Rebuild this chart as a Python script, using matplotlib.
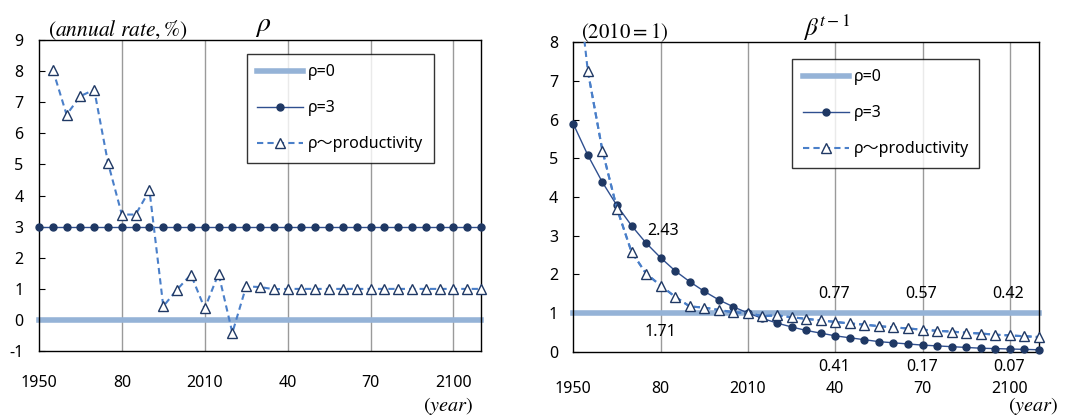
import numpy as np
import matplotlib
matplotlib.use("Agg")
import matplotlib.pyplot as plt

plt.rcParams['font.family'] = ['Noto Sans', 'Noto Sans CJK JP', 'DejaVu Sans']
plt.rcParams['mathtext.fontset'] = 'stix'
plt.rcParams['axes.unicode_minus'] = False

years = np.arange(1950, 2115, 5)
tick_years = [1950, 1980, 2010, 2040, 2070, 2100]
tick_labels = ['1950', '80', '2010', '40', '70', '2100']

# left panel: discount rate rho (annual rate, %)
rho0_left = [0.0] * len(years)
rho3_left = [3.0] * len(years)
prod_years_left = years[1:]
rho_prod_left = [8.05, 6.6, 7.2, 7.4, 5.05, 3.39, 3.39, 4.17, 0.44, 0.98, 1.46, 0.37,
                 1.49, -0.41, 1.08, 1.06, 0.99, 1.0, 1.0, 1.0, 1.0, 1.0, 1.0, 1.0,
                 1.0, 1.0, 1.0, 1.0, 1.0, 1.0, 1.0, 1.0]

# right panel: beta^(t-1), 2010 = 1
beta0_right = [1.0] * len(years)
beta3_right = [5.89, 5.08, 4.38, 3.78, 3.26, 2.81, 2.43, 2.09, 1.81, 1.56, 1.34, 1.16, 1.00,
               0.86, 0.74, 0.64, 0.55, 0.48, 0.41, 0.36, 0.31, 0.26, 0.23, 0.20, 0.17,
               0.15, 0.13, 0.11, 0.09, 0.08, 0.07, 0.06, 0.05]
beta_prod_right = [10.6, 7.25, 5.2, 3.7, 2.58, 2.02, 1.71, 1.42, 1.17, 1.14, 1.08, 1.02, 1.00,
                   0.92, 0.94, 0.89, 0.85, 0.81, 0.77, 0.73, 0.70, 0.66, 0.63, 0.60, 0.57,
                   0.54, 0.52, 0.49, 0.47, 0.44, 0.42, 0.40, 0.38]
label_years_upper = [2040, 2070, 2100]
label_years_lower = [2040, 2070, 2100]

c_zero = '#95B3D7'
c_line3 = '#2F4F8F'
c_dot = '#1F3864'
c_dash = '#4A7FC9'

fig = plt.figure(figsize=(10.73, 4.17), dpi=100)
ax1 = fig.add_axes([0.0363, 0.158, 0.412, 0.746])
ax2 = fig.add_axes([0.5343, 0.1566, 0.434, 0.742])


def style_axes(ax, xpad):
    ax.set_xlim(1950, 2110)
    ax.set_xticks(tick_years)
    ax.set_xticklabels(tick_labels)
    for x in tick_years[1:]:
        ax.axvline(x, color='#9A9A9A', lw=1, zorder=0)
    for s in ax.spines.values():
        s.set_color('black')
        s.set_linewidth(1)
    ax.tick_params(axis='x', direction='in', length=0, pad=xpad, labelsize=11.5)
    ax.tick_params(axis='y', direction='in', length=4, pad=11, labelsize=11.5)


def draw_legend(ax, x0, y0):
    leg = ax.legend(loc='upper left', bbox_to_anchor=(x0, y0), frameon=True, fancybox=False,
                    fontsize=11.5, handlelength=2.9, labelspacing=1.25, borderpad=0.65,
                    handletextpad=0.3, borderaxespad=0)
    leg.get_frame().set_edgecolor('black')
    leg.get_frame().set_linewidth(1)


# ---- left
ax1.plot(years, rho0_left, color=c_zero, lw=4, label='ρ=0', clip_on=False, zorder=2)
ax1.plot(years, rho3_left, color=c_line3, lw=1, marker='o', ms=5, mfc=c_dot, mec=c_dot,
         label='ρ=3', clip_on=False, zorder=3)
ax1.plot(prod_years_left, rho_prod_left, color=c_dash, lw=1.5, ls=(0, (3, 2)), marker='^', ms=7,
         mfc='white', mec=c_dot, mew=1, label='ρ〜productivity', clip_on=False, zorder=4)
ax1.set_ylim(-1, 9)
ax1.set_yticks(range(-1, 10))
style_axes(ax1, 17)
draw_legend(ax1, 0.47, 0.955)
ax1.text(0.507, 1.048, r'$\rho$', transform=ax1.transAxes, ha='center', va='center', fontsize=20)
ax1.text(0.02, 1.032, r'$(annual\ rate,\%)$', transform=ax1.transAxes, ha='left', va='center',
         fontsize=15.5)
ax1.text(0.982, -0.211, r'$(year)$', transform=ax1.transAxes, ha='right', va='bottom', fontsize=14.5)

# ---- right
ax2.plot(years, beta0_right, color=c_zero, lw=4, label='ρ=0', clip_on=False, zorder=2)
ax2.plot(years, beta3_right, color=c_line3, lw=1, marker='o', ms=5, mfc=c_dot, mec=c_dot,
         label='ρ=3', clip_on=False, zorder=3)
ax2.plot(years, beta_prod_right, color=c_dash, lw=1.5, ls=(0, (3, 2)), zorder=4)
ax2.plot(years[1:], beta_prod_right[1:], color=c_dash, lw=1.5, ls=(0, (3, 2)), marker='^', ms=7,
         mfc='white', mec=c_dot, mew=1, label='ρ〜productivity', clip_on=False, zorder=4)
ax2.set_ylim(0, 8)
ax2.set_yticks(range(0, 9))
style_axes(ax2, 21)
draw_legend(ax2, 0.47, 0.946)

yl = list(years)
i80 = yl.index(1980)
ax2.text(1981, 3.12, f'{beta3_right[i80]:.2f}', ha='center', va='center', fontsize=11.5)
ax2.text(1980, 0.52, f'{beta_prod_right[i80]:.2f}', ha='center', va='center', fontsize=11.5)
for y in label_years_upper:
    ax2.text(y - 0.5, 1.5, f'{beta_prod_right[yl.index(y)]:.2f}', ha='center', va='center',
             fontsize=11.5)
for y in label_years_lower:
    ax2.text(y - 0.3, -0.4, f'{beta3_right[yl.index(y)]:.2f}', ha='center', va='center',
             fontsize=11.5, clip_on=False)

ax2.text(0.545, 1.046, r'$\beta^{t-1}$', transform=ax2.transAxes, ha='center', va='center',
         fontsize=18)
ax2.text(0.016, 1.032, r'$(2010=1)$', transform=ax2.transAxes, ha='left', va='center',
         fontsize=15)
ax2.text(1.041, -0.211, r'$(year)$', transform=ax2.transAxes, ha='right', va='bottom', fontsize=14.5)

fig.savefig('out.png', dpi=100)
